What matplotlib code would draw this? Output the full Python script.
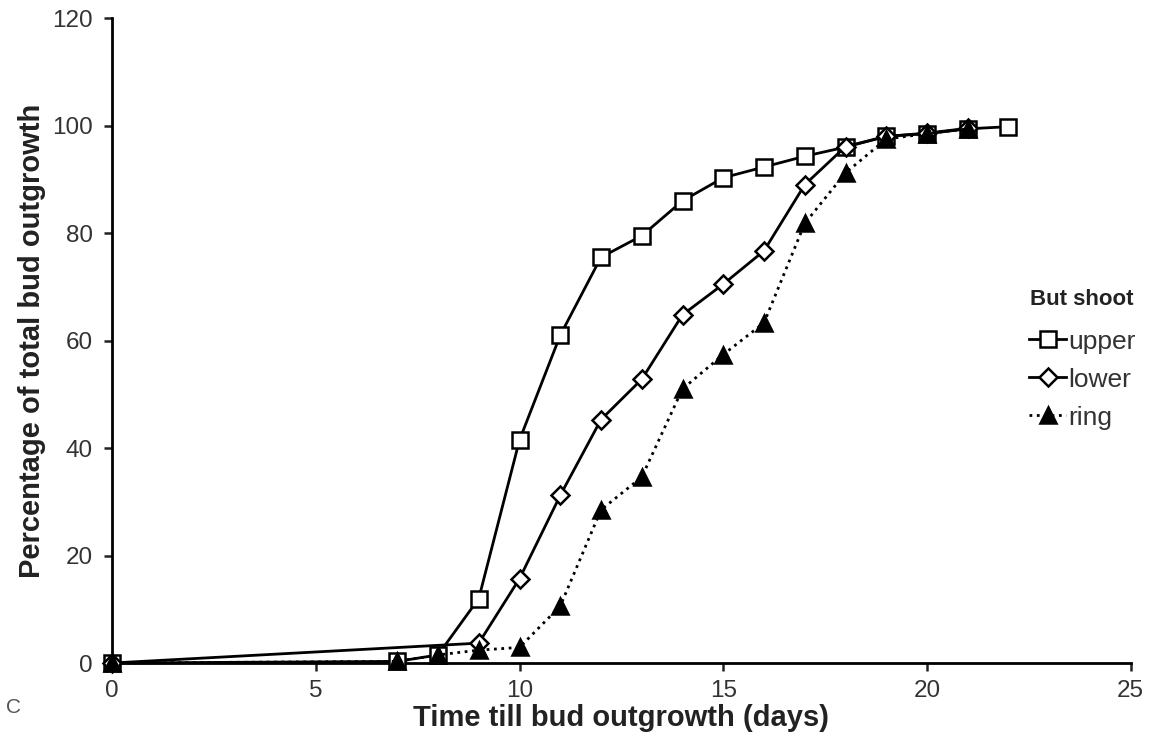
"""Cumulative bud outgrowth over time for upper / lower / ring shoots."""
import matplotlib
matplotlib.use('Agg')
import matplotlib.pyplot as plt

plt.rcParams['font.family'] = ['Liberation Sans', 'DejaVu Sans']

# Data.
upper_days = [0, 7, 8, 9, 10, 11, 12, 13, 14, 15, 16, 17, 18, 19, 20, 21, 22]
upper_pct = [0, 0.3, 1.5, 12, 41.5, 61, 75.5, 79.5, 86, 90.3, 92.3, 94.3,
             96, 98, 98.5, 99.4, 99.8]

lower_days = [0, 9, 10, 11, 12, 13, 14, 15, 16, 17, 18, 19, 20, 21]
lower_pct = [0, 3.7, 15.7, 31.2, 45.3, 52.8, 64.8, 70.5, 76.7, 89, 96.1,
             98, 98.6, 99.5]

ring_days = [0, 7, 8, 9, 10, 11, 12, 13, 14, 15, 16, 17, 18, 19, 20, 21]
ring_pct = [0, 0.3, 1.5, 2.4, 2.9, 10.6, 28.5, 34.6, 51, 57.4, 63.3, 81.8,
            91.2, 97.5, 98.5, 99.4]

series = [
    ('upper', upper_days, upper_pct, 's', 'white', '-', 11),
    ('lower', lower_days, lower_pct, 'D', 'white', '-', 9),
    ('ring', ring_days, ring_pct, '^', 'black', ':', 11),
]

fig = plt.figure(figsize=(11.55, 7.49), dpi=100)
ax = fig.add_axes([0.097, 0.1148, 0.882, 0.861])

for name, xs, ys, mk, fc, ls, ms in series:
    ax.plot(xs, ys, linestyle=ls, color='black', lw=2.0,
            marker=mk, markersize=ms, markerfacecolor=fc,
            markeredgecolor='black', markeredgewidth=1.8,
            label=name, zorder=3, clip_on=False)

ax.set_xlim(0, 25)
ax.set_ylim(0, 120)
ax.set_xticks([0, 5, 10, 15, 20, 25])
ax.set_yticks([0, 20, 40, 60, 80, 100, 120])
for sp in ('top', 'right'):
    ax.spines[sp].set_visible(False)
for sp in ('left', 'bottom'):
    ax.spines[sp].set_linewidth(2.0)
ax.tick_params(direction='out', length=6, width=1.8, labelsize=17.5,
               colors='#222222', labelcolor='#333333')
ax.tick_params(axis='x', pad=6)
ax.tick_params(axis='y', pad=8)

ax.set_xlabel('Time till bud outgrowth (days)', fontsize=21,
              fontweight='bold', color='#222222', labelpad=2)
ax.set_ylabel('Percentage of total bud outgrowth', fontsize=21,
              fontweight='bold', color='#222222', labelpad=4)

# Legend title drawn separately so its gap to the entries matches.
fig.text(0.892, 0.5995, 'But shoot', fontsize=16, fontweight='bold',
         color='#222222', ha='left', va='center')
leg = ax.legend(loc='upper left', bbox_to_anchor=(0.891, 0.56),
                bbox_transform=fig.transFigure, frameon=False,
                fontsize=19, handlelength=1.4,
                handletextpad=0.1, labelspacing=0.53,
                borderaxespad=0, borderpad=0)
for t in leg.get_texts():
    t.set_color('#333333')

fig.text(0.005, 0.048, 'C', fontsize=15, color='#555555')

plt.savefig('out.png', dpi=100)
